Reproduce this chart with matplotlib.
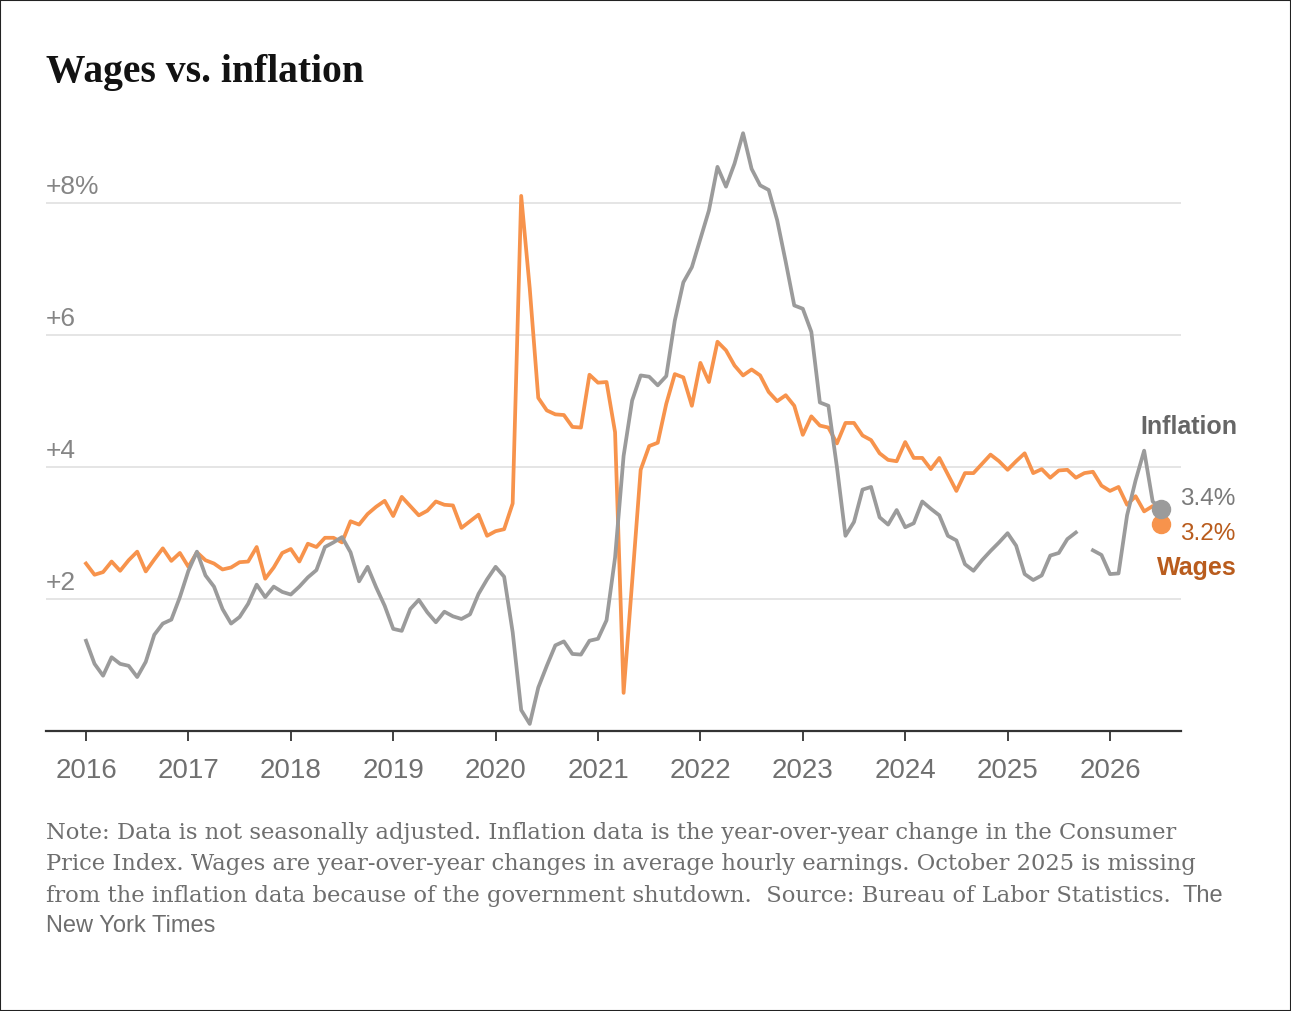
import matplotlib.pyplot as plt
import numpy as np
from matplotlib.patches import Rectangle

# monthly year-over-year changes, starting January 2016
start_year = 2016
inflation = [1.36, 1.01, 0.83, 1.11, 1.01, 0.98, 0.81, 1.04, 1.45, 1.62, 1.68, 2.02,
             2.42, 2.71, 2.35, 2.18, 1.84, 1.62, 1.72, 1.92, 2.21, 2.02, 2.18, 2.10,
             2.06, 2.18, 2.32, 2.43, 2.78, 2.85, 2.93, 2.70, 2.26, 2.48, 2.17, 1.89,
             1.54, 1.51, 1.84, 1.98, 1.79, 1.64, 1.80, 1.73, 1.69, 1.76, 2.07, 2.29,
             2.48, 2.33, 1.49, 0.31, 0.10, 0.65, 0.98, 1.29, 1.35, 1.16, 1.15, 1.36,
             1.39, 1.67, 2.62, 4.16, 5.00, 5.38, 5.36, 5.23, 5.37, 6.21, 6.79, 7.02,
             7.45, 7.88, 8.54, 8.24, 8.59, 9.05, 8.51, 8.26, 8.19, 7.73, 7.10, 6.44,
             6.39, 6.04, 4.97, 4.92, 3.99, 2.95, 3.16, 3.65, 3.69, 3.23, 3.12, 3.34,
             3.08, 3.14, 3.47, 3.36, 3.26, 2.95, 2.88, 2.52, 2.42, 2.58, 2.72, 2.85,
             2.99, 2.80, 2.37, 2.28, 2.35, 2.65, 2.69, 2.90, 3.00, None, 2.73, 2.66,
             2.37, 2.38, 3.26, 3.79, 4.24, 3.47, 3.36]
wages = [2.53, 2.36, 2.40, 2.56, 2.42, 2.58, 2.71, 2.41, 2.59, 2.76, 2.57, 2.69,
         2.48, 2.70, 2.58, 2.53, 2.44, 2.47, 2.55, 2.56, 2.78, 2.30, 2.47, 2.69,
         2.75, 2.56, 2.83, 2.78, 2.92, 2.92, 2.85, 3.17, 3.12, 3.28, 3.39, 3.48,
         3.25, 3.54, 3.40, 3.26, 3.33, 3.47, 3.42, 3.41, 3.07, 3.17, 3.27, 2.95,
         3.02, 3.05, 3.44, 8.10, 6.70, 5.04, 4.85, 4.79, 4.78, 4.60, 4.59, 5.39,
         5.27, 5.28, 4.52, 0.57, 2.25, 3.95, 4.31, 4.36, 4.95, 5.40, 5.35, 4.92,
         5.57, 5.28, 5.89, 5.76, 5.53, 5.38, 5.47, 5.38, 5.13, 4.99, 5.08, 4.92,
         4.48, 4.76, 4.62, 4.59, 4.35, 4.66, 4.66, 4.47, 4.40, 4.20, 4.10, 4.08,
         4.37, 4.13, 4.13, 3.96, 4.13, 3.88, 3.63, 3.90, 3.90, 4.04, 4.18, 4.08,
         3.95, 4.08, 4.20, 3.90, 3.96, 3.83, 3.94, 3.95, 3.83, 3.90, 3.92, 3.71,
         3.63, 3.69, 3.42, 3.55, 3.32, 3.40, 3.13]

year_ticks = list(range(2016, 2027))
y_ticks = [2, 4, 6, 8]
y_tick_labels = ['+2', '+4', '+6', '+8%']
end_labels = {'Inflation': '3.4%', 'Wages': '3.2%'}

title = 'Wages vs. inflation'
note_lines = [
    'Note: Data is not seasonally adjusted. Inflation data is the year-over-year change in the Consumer',
    'Price Index. Wages are year-over-year changes in average hourly earnings. October 2025 is missing',
    'from the inflation data because of the government shutdown.  Source: Bureau of Labor Statistics.',
]
credit = ['The', 'New York Times']

gray = '#9b9b9b'
orange = '#f7934c'
dark_orange = '#b95c1d'
text_gray = '#6e6e6e'

W, H = 1291, 1011
x = start_year + np.arange(len(wages)) / 12
infl = np.array(inflation, dtype=float)
wage = np.array(wages, dtype=float)

fig = plt.figure(figsize=(W / 100, H / 100), dpi=100)
px_year = 102.4
px_unit = 66
ax = fig.add_axes([46 / W, (H - 730.5) / H, 1135 / W, 9.2 * px_unit / H])
ax.set_xlim(start_year - 40 / px_year, start_year + 1095 / px_year)
ax.set_ylim(0, 9.2)

for s in ['top', 'right', 'left']:
    ax.spines[s].set_visible(False)
ax.spines['bottom'].set_color('#333333')
ax.spines['bottom'].set_linewidth(1.6)

ax.set_yticks(y_ticks)
ax.tick_params(axis='y', length=0, labelleft=False)
ax.grid(axis='y', color='#e0e0e0', linewidth=1.2)
ax.set_axisbelow(True)

ax.set_xticks(year_ticks)
ax.set_xticklabels([str(y) for y in year_ticks])
ax.tick_params(axis='x', length=7, width=1.3, color='#333333', pad=13,
               labelsize=20, labelcolor='#707070')
for lab in ax.get_xticklabels():
    lab.set_fontfamily('Liberation Sans')

for v, lab in zip(y_ticks, y_tick_labels):
    ax.annotate(lab, xy=(0, v), xycoords=ax.get_yaxis_transform(),
                xytext=(0, 9), textcoords='offset pixels', va='baseline', ha='left',
                fontsize=19, color='#858585', family='Liberation Sans')

ax.plot(x, wage, color=orange, lw=2.7, solid_joinstyle='round', zorder=3)
ax.plot(x, infl, color=gray, lw=2.7, solid_joinstyle='round', zorder=4)
ax.plot(x[-1], wage[-1], 'o', ms=13, color=orange, zorder=5, clip_on=False)
ax.plot(x[-1], infl[-1], 'o', ms=13, color=gray, zorder=6, clip_on=False)

# end labels
ax.annotate('Inflation', xy=(x[-1], infl[-1]), xytext=(76, 75), textcoords='offset pixels',
            ha='right', va='baseline', fontsize=18, fontweight='bold', color='#666666',
            family='Liberation Sans')
ax.annotate(end_labels['Inflation'], xy=(x[-1], infl[-1]), xytext=(19, 4),
            textcoords='offset pixels', ha='left', va='baseline', fontsize=17.5,
            color='#7a7a7a', family='Liberation Sans')
ax.annotate(end_labels['Wages'], xy=(x[-1], wage[-1]), xytext=(19, -16),
            textcoords='offset pixels', ha='left', va='baseline', fontsize=17.5,
            color=dark_orange, family='Liberation Sans')
ax.annotate('Wages', xy=(x[-1], wage[-1]), xytext=(-4, -51), textcoords='offset pixels',
            ha='left', va='baseline', fontsize=18, fontweight='bold', color=dark_orange,
            family='Liberation Sans')

fig.text(46 / W, 1 - 82 / H, title, family='Liberation Serif', fontweight='bold',
         fontsize=28.5, color='#121212', va='baseline', ha='left')

baselines = [838.5, 870.2, 901.9]
texts = []
for line, b in zip(note_lines, baselines):
    t = fig.text(46 / W, 1 - b / H, line, family='DejaVu Serif', fontsize=16.3,
                 color=text_gray, va='baseline', ha='left')
    texts.append(t)

fig.canvas.draw()
bb = texts[-1].get_window_extent()
fig.text((bb.x1 + 12) / W, 1 - baselines[-1] / H, credit[0], family='Liberation Sans',
         fontsize=17, color=text_gray, va='baseline', ha='left')
fig.text(46 / W, 1 - 932 / H, credit[1], family='Liberation Sans', fontsize=17,
         color=text_gray, va='baseline', ha='left')

fig.add_artist(Rectangle((0, 0), 1, 1, transform=fig.transFigure, fill=False,
                         edgecolor='#222222', linewidth=1.5))

fig.savefig('out.png', dpi=100)
